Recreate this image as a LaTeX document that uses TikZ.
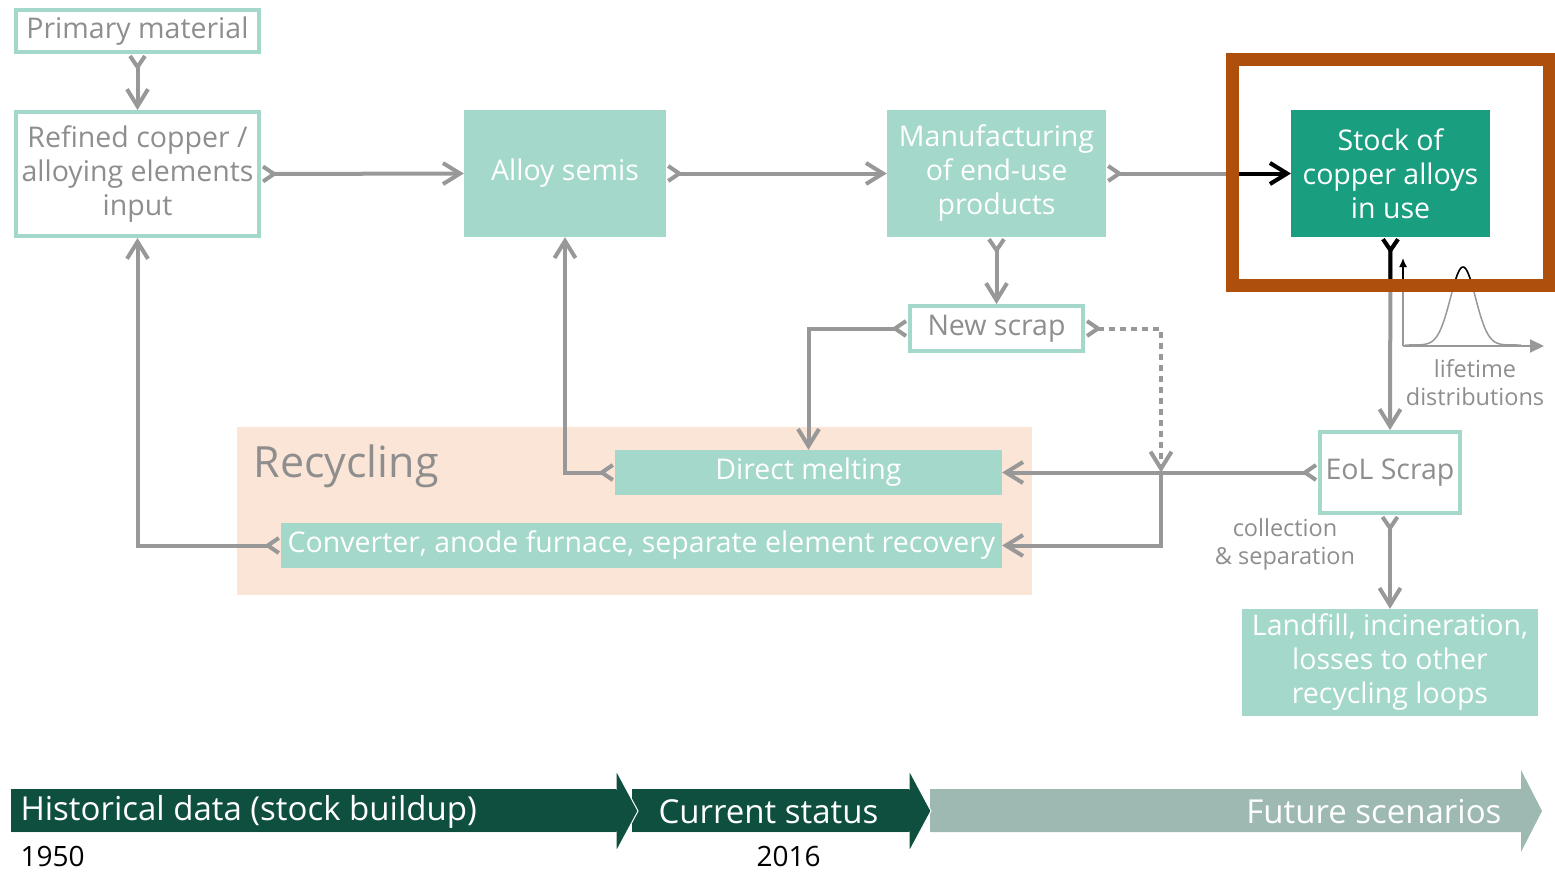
\documentclass[tikz,border=0pt]{standalone}
\usepackage{fontspec}
\setmainfont{Open Sans}
\usetikzlibrary{arrows.meta,positioning,calc}
\definecolor{CuTeal}{HTML}{A3D8CA}
\definecolor{CuStock}{HTML}{1A9E80}
\definecolor{CuLine}{HTML}{989898}
\definecolor{CuText}{HTML}{8E8E8E}
\definecolor{CuPeach}{HTML}{FBE5D6}
\definecolor{CuFrame}{HTML}{AE4F0C}
\definecolor{CuDark}{HTML}{0F4F40}
\definecolor{CuFuture}{HTML}{9DB9B1}
\tikzset{
  flow/.style={{Straight Barb[reversed,length=11pt,width=15pt]}-{Straight Barb[length=17pt,width=21pt]},draw=CuLine,line width=4pt},
  flowplain/.style={-{Straight Barb[length=17pt,width=21pt]},draw=CuLine,line width=4pt},
  flowdash/.style={flow,dash pattern=on 6pt off 5pt},
  flowblack/.style={flow,draw=black},
  box/.style={draw=CuTeal,line width=4pt,fill=white,text=CuText,align=center,
              inner sep=0pt,font=\fontsize{28.5}{34}\selectfont},
  boxfill/.style={fill=CuTeal,text=white,align=center,inner sep=0pt,
                  font=\fontsize{28.5}{34}\selectfont},
  boxstock/.style={boxfill,fill=CuStock},
  note/.style={text=CuText,align=center,font=\fontsize{23.5}{28}\selectfont},
  band/.style={text=white,font=\fontsize{33}{38}\selectfont},
  year/.style={text=black,font=\fontsize{28}{32}\selectfont},
  axis/.style={draw=CuLine,line width=2pt},
}

\begin{document}
\begin{tikzpicture}[x=1pt,y=-1pt]
  \useasboundingbox (0,0) rectangle (1555,872);

  % recycling area
  \fill[CuPeach] (237,427) rectangle (1032,595);
  \node[text=CuText,font=\fontsize{43}{48}\selectfont,anchor=base west] (recyc) at (250,477) {Recycling};

  % boxes
  \node[box,minimum width=243,minimum height=42] (prim) at (137.5,31) {Primary material};
  \node[box,minimum width=243,minimum height=124] (refined) at (137.5,174) {Refined copper /\\alloying elements\\input};
  \node[boxfill,minimum width=202,minimum height=127] (semis) at (565,173.5) {Alloy semis};
  \node[boxfill,minimum width=219,minimum height=127] (manuf) at (996.5,173.5) {Manufacturing\\of end-use\\products};
  \node[boxstock,minimum width=199,minimum height=127] (stock) at (1390.5,173.5) {Stock of\\copper alloys\\in use};
  \node[box,minimum width=173,minimum height=45] (newscrap) at (996.5,328.5) {New scrap};
  \node[boxfill,minimum width=387,minimum height=45] (direct) at (808.5,472.5) {Direct melting};
  \node[boxfill,minimum width=721,minimum height=45] (conv) at (641.5,545.5) {Converter, anode furnace, separate element recovery};
  \node[box,minimum width=140,minimum height=81] (eol) at (1390,472.5) {EoL Scrap};
  \node[boxfill,minimum width=296,minimum height=107] (landfill) at (1390,662.5) {Landfill, incineration,\\losses to other\\recycling loops};

  \node[note] (collect) at (1285,544) {collection\\\& separation};
  \node[note] (life) at (1475,383) {lifetime\\distributions};

  % connectors
  \coordinate (split) at (1161,472.5);
  \draw[flow] (prim.south) -- (refined.north);
  \draw[flow] (refined.east) -- (semis.west);
  \draw[flow] (semis.east) -- (manuf.west);
  \draw[flow] (manuf.east) -- (stock.west);
  \draw[flow] (manuf.south) -- (newscrap.north);
  \draw[flow] (newscrap.west) -| (direct.north);
  \draw[flowdash] (newscrap.east) -| (split);
  \draw[flow] (stock.south) -- (eol.north);
  \draw[flow] (eol.west) -- (direct.east);
  \draw[flowplain] (split) |- (conv.east);
  \draw[flow] (direct.west) -| (semis.south);
  \draw[flow] (conv.west) -| (refined.south);
  \draw[flow] (eol.south) -- (landfill.north);

  % lifetime curve
  \coordinate (lto) at (1403,346);
  \draw[axis,-{Latex[length=9pt,width=8pt]}] (lto) -- ++(0,-88);
  \draw[axis,-{Triangle[length=14pt,width=13pt]}] (lto) -- ++(141,0);
  \draw[CuLine,line width=1.5pt] plot[domain=-58:58,samples=90,smooth]
    ({1463+\x},{345-78*exp(-0.5*(\x/12.5)*(\x/12.5))});

  % part inside the frame
  \begin{scope}
    \clip (1239,66) rectangle (1543,279);
    \draw[flowblack] (manuf.east) -- (stock.west);
    \draw[flowblack] (stock.south) -- (eol.north);
    \draw[axis,draw=black,-{Latex[length=9pt,width=8pt]}] (lto) -- ++(0,-88);
    \draw[black,line width=1.5pt] plot[domain=-58:58,samples=90,smooth]
      ({1463+\x},{345-78*exp(-0.5*(\x/12.5)*(\x/12.5))});
  \end{scope}
  \draw[CuFrame,line width=13pt] (1232.5,59.5) rectangle (1549.5,285.5);

  % timeline
  \fill[CuFuture] (930,789) -- (1521,789) -- (1521,770) -- (1542,811) -- (1521,852) -- (1521,832) -- (930,832) -- cycle;
  \filldraw[fill=CuDark,draw=white,line width=1pt] (632,789) -- (909,789) -- (909,770) -- (931,811) -- (909,852) -- (909,832) -- (632,832);
  \fill[CuDark] (632,789) rectangle (909,832);
  \filldraw[fill=CuDark,draw=white,line width=1pt] (11,789) -- (616,789) -- (616,770) -- (638,811) -- (616,852) -- (616,832) -- (11,832);
  \fill[CuDark] (11,789) rectangle (616,832);
  \node[band,anchor=west] (hist) at (17,812) {Historical data (stock buildup)};
  \node[band,anchor=west] (curr) at (655,812) {Current status};
  \node[band,anchor=east] (fut) at (1505,812) {Future scenarios};
  \node[year,anchor=west] (y1950) at (17,856) {1950};
  \node[year,anchor=west] (y2016) at (753,856) {2016};
\end{tikzpicture}
\end{document}
